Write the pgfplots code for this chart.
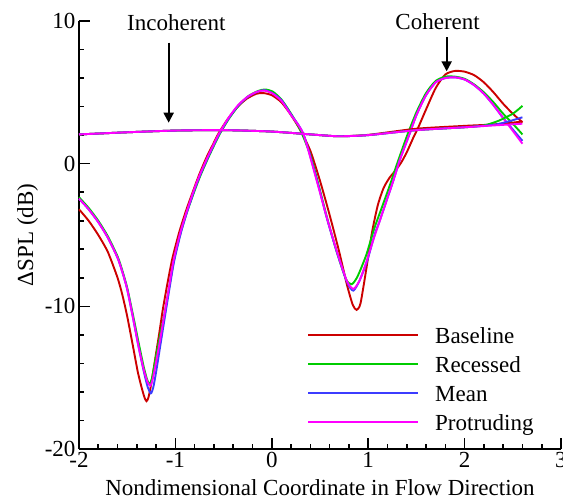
\documentclass[border=0pt]{standalone}
\usepackage{fontspec}
\setmainfont{Liberation Serif}
\usepackage{pgfplots}
\pgfplotsset{compat=1.18}
\usetikzlibrary{arrows.meta}
\definecolor{cRed}{RGB}{204,0,0}
\definecolor{cGreen}{RGB}{0,204,0}
\definecolor{cBlue}{RGB}{60,60,255}
\definecolor{cMag}{RGB}{255,0,255}
\newcommand{\bigf}{\fontsize{23}{27}\selectfont}
\begin{document}
\begin{tikzpicture}
\begin{axis}[
  name=ax, at={(0,0)}, anchor=south west,
  scale only axis, width=482pt, height=428pt,
  xmin=-2, xmax=3, ymin=-20, ymax=10,
  axis x line*=bottom, axis y line*=left,
  axis line style={-, line width=2pt, black},
  xtick={-2,-1,0,1,2,3}, ytick={-20,-10,0,10},
  minor x tick num=4, minor y tick num=4,
  tick align=inside,
  major tick length=11pt, minor tick length=5pt,
  every tick/.style={black, line width=1.6pt},
  /pgf/number format/assume math mode=true,
  tick label style={font=\bigf},
  label style={font=\bigf},
  xlabel={Nondimensional Coordinate in Flow Direction},
  xlabel style={yshift=-5pt},
  ylabel={ΔSPL (dB)},
  clip=false,
  legend style={at={(0.473,0.285)}, anchor=north west, draw=none, fill=none,
    inner sep=0pt, row sep=8pt, column sep=16pt, font=\bigf,
    nodes={inner sep=0pt, text height=16pt, text depth=5pt}},
  legend cell align=left,
  legend image code/.code={\draw[#1] (0pt,2.5pt) -- (110pt,2.5pt);},
  every axis plot/.append style={line width=1.9pt, smooth, tension=0.4},
]
\addlegendimage{draw=cRed, line width=2pt}
\addlegendentry{Baseline}
\addlegendimage{draw=cGreen, line width=2pt}
\addlegendentry{Recessed}
\addlegendimage{draw=cBlue, line width=2pt}
\addlegendentry{Mean}
\addlegendimage{draw=cMag, line width=2pt}
\addlegendentry{Protruding}
% coherent curves
\addplot[cRed, forget plot] coordinates {
(-2.00,-3.2) (-1.90,-4.0) (-1.80,-5.0) (-1.70,-6.2) (-1.60,-8.0) (-1.55,-9.2)
(-1.50,-10.7) (-1.44,-12.8) (-1.39,-14.6) (-1.35,-15.7) (-1.32,-16.4) (-1.30,-16.65)
(-1.28,-16.4) (-1.25,-15.4) (-1.21,-13.7) (-1.17,-12.0) (-1.13,-10.2) (-1.08,-8.3)
(-1.03,-6.6) (-0.96,-4.8) (-0.89,-3.3) (-0.81,-1.8) (-0.755,-0.8) (-0.68,0.4) (-0.61,1.35)
(-0.55,2.15) (-0.46,3.1) (-0.36,3.95) (-0.26,4.55) (-0.16,4.9) (-0.09,4.95) (0.00,4.8)
(0.10,4.3) (0.20,3.4) (0.30,2.3) (0.40,0.9) (0.50,-1.2) (0.60,-3.6) (0.70,-6.2)
(0.78,-8.5) (0.84,-9.9) (0.88,-10.25) (0.92,-9.8) (0.98,-7.4) (1.04,-4.8) (1.10,-2.9)
(1.16,-1.7) (1.22,-1.0) (1.28,-0.5) (1.34,0.05) (1.40,0.8) (1.47,1.85) (1.52,2.55)
(1.60,3.8) (1.70,5.3) (1.80,6.25) (1.90,6.5) (2.00,6.45) (2.10,6.2) (2.20,5.7)
(2.30,5.0) (2.40,4.2) (2.50,3.5) (2.60,2.9)};
\addplot[cGreen, forget plot] coordinates {
(-2.00,-2.35) (-1.90,-3.1) (-1.80,-4.0) (-1.70,-5.1) (-1.60,-6.5) (-1.55,-7.5)
(-1.50,-8.7) (-1.44,-10.6) (-1.38,-12.6) (-1.33,-14.2) (-1.295,-15.1) (-1.27,-15.45)
(-1.245,-15.1) (-1.22,-14.2) (-1.19,-13.1) (-1.15,-11.7) (-1.115,-10.6) (-1.06,-8.5)
(-1.01,-6.6) (-0.94,-4.7) (-0.87,-3.2) (-0.79,-1.7) (-0.735,-0.75) (-0.66,0.4) (-0.59,1.4)
(-0.53,2.2) (-0.44,3.2) (-0.34,4.1) (-0.24,4.75) (-0.14,5.1) (-0.07,5.2) (0.01,5.05)
(0.10,4.5) (0.20,3.5) (0.30,2.3) (0.40,0.6) (0.47,-1.1) (0.57,-3.7) (0.67,-6.1)
(0.77,-8.1) (0.83,-8.45) (0.89,-7.9) (0.98,-6.4) (1.06,-4.6) (1.14,-3.1) (1.22,-1.6)
(1.30,0.0) (1.40,1.9) (1.50,3.6) (1.60,4.95) (1.70,5.8) (1.80,6.1) (1.90,6.1)
(2.00,5.95) (2.10,5.55) (2.20,5.0) (2.30,4.3) (2.40,3.5) (2.50,2.8) (2.60,2.05)};
\addplot[cBlue, forget plot] coordinates {
(-2.00,-2.45) (-1.90,-3.2) (-1.80,-4.1) (-1.70,-5.2) (-1.60,-6.6) (-1.55,-7.6)
(-1.50,-8.8) (-1.44,-10.8) (-1.38,-12.9) (-1.33,-14.5) (-1.29,-15.6) (-1.255,-16.1)
(-1.23,-15.7) (-1.20,-14.6) (-1.16,-12.9) (-1.12,-11.2) (-1.065,-8.9) (-1.015,-6.9)
(-0.945,-4.9) (-0.875,-3.3) (-0.795,-1.7) (-0.74,-0.75) (-0.665,0.4) (-0.595,1.4)
(-0.535,2.2) (-0.445,3.2) (-0.345,4.1) (-0.245,4.7) (-0.145,5.05) (-0.075,5.15)
(0.005,4.95) (0.10,4.45) (0.20,3.45) (0.33,2.05) (0.47,-1.2) (0.57,-3.8) (0.675,-6.2)
(0.78,-8.3) (0.845,-8.9) (0.91,-8.2) (0.99,-6.8) (1.07,-4.9) (1.12,-4.0) (1.26,-1.2)
(1.33,0.3) (1.43,2.1) (1.50,3.4) (1.60,4.8) (1.70,5.7) (1.80,6.0) (1.90,6.05)
(2.00,5.9) (2.10,5.5) (2.20,4.9) (2.30,4.1) (2.40,3.2) (2.50,2.4) (2.60,1.6)};
\addplot[cMag, forget plot] coordinates {
(-2.00,-2.45) (-1.90,-3.2) (-1.80,-4.1) (-1.70,-5.2) (-1.60,-6.6) (-1.55,-7.6)
(-1.50,-8.8) (-1.44,-10.8) (-1.38,-12.9) (-1.33,-14.4) (-1.29,-15.3) (-1.26,-15.56)
(-1.235,-15.1) (-1.20,-13.9) (-1.16,-12.4) (-1.125,-11.0) (-1.07,-8.8) (-1.02,-6.8)
(-0.95,-4.85) (-0.88,-3.3) (-0.80,-1.7) (-0.745,-0.75) (-0.67,0.4) (-0.60,1.4) (-0.54,2.2)
(-0.45,3.2) (-0.35,4.1) (-0.25,4.7) (-0.15,5.05) (-0.08,5.12) (0.00,4.95)
(0.10,4.4) (0.20,3.4) (0.327,2.08) (0.466,-1.2) (0.57,-3.76) (0.673,-6.1) (0.777,-8.2)
(0.846,-8.78) (0.91,-8.2) (0.985,-6.8) (1.05,-5.4) (1.12,-4.0) (1.26,-1.2) (1.33,0.3)
(1.43,2.1) (1.50,3.4) (1.60,4.8) (1.70,5.7) (1.80,6.0) (1.90,6.05)
(2.00,5.9) (2.10,5.5) (2.20,4.9) (2.30,4.1) (2.40,3.2) (2.50,2.3) (2.60,1.4)};
% incoherent curves
\addplot[cRed, forget plot] coordinates {
(-2.0,2.05) (-1.5,2.2) (-1.0,2.32) (-0.5,2.35) (0.0,2.25) (0.5,2.0) (0.7,1.92)
(1.0,2.02) (1.5,2.45) (2.0,2.65) (2.3,2.75) (2.6,2.95)};
\addplot[cGreen, forget plot] coordinates {
(-2.0,2.05) (-1.5,2.2) (-1.0,2.32) (-0.5,2.35) (0.0,2.25) (0.5,2.0) (0.7,1.92)
(1.0,2.0) (1.5,2.35) (2.0,2.55) (2.2,2.68) (2.35,3.0) (2.5,3.5) (2.6,4.05)};
\addplot[cBlue, forget plot] coordinates {
(-2.0,2.05) (-1.5,2.2) (-1.0,2.32) (-0.5,2.35) (0.0,2.25) (0.5,2.0) (0.7,1.92)
(1.0,2.0) (1.5,2.35) (2.0,2.55) (2.3,2.72) (2.45,2.95) (2.6,3.25)};
\addplot[cMag, forget plot] coordinates {
(-2.0,2.05) (-1.5,2.2) (-1.0,2.32) (-0.5,2.35) (0.0,2.25) (0.5,2.0) (0.7,1.92)
(1.0,2.0) (1.5,2.35) (2.0,2.55) (2.3,2.68) (2.6,2.8)};
% annotations
\node[font=\bigf, anchor=base] at (axis cs:-0.99,9.32) {Incoherent};
\draw[line width=2pt, -{Triangle[length=10pt,width=10pt]}] (axis cs:-1.07,8.48) -- (axis cs:-1.07,2.87);
\node[font=\bigf, anchor=base] at (axis cs:1.72,9.4) {Coherent};
\draw[line width=2pt, -{Triangle[length=10pt,width=10pt]}] (axis cs:1.814,8.85) -- (axis cs:1.814,6.47);
\end{axis}
\pgfresetboundingbox
\path[use as bounding box] (-79pt,-52pt) rectangle (484pt,449pt);
\end{tikzpicture}
\end{document}
